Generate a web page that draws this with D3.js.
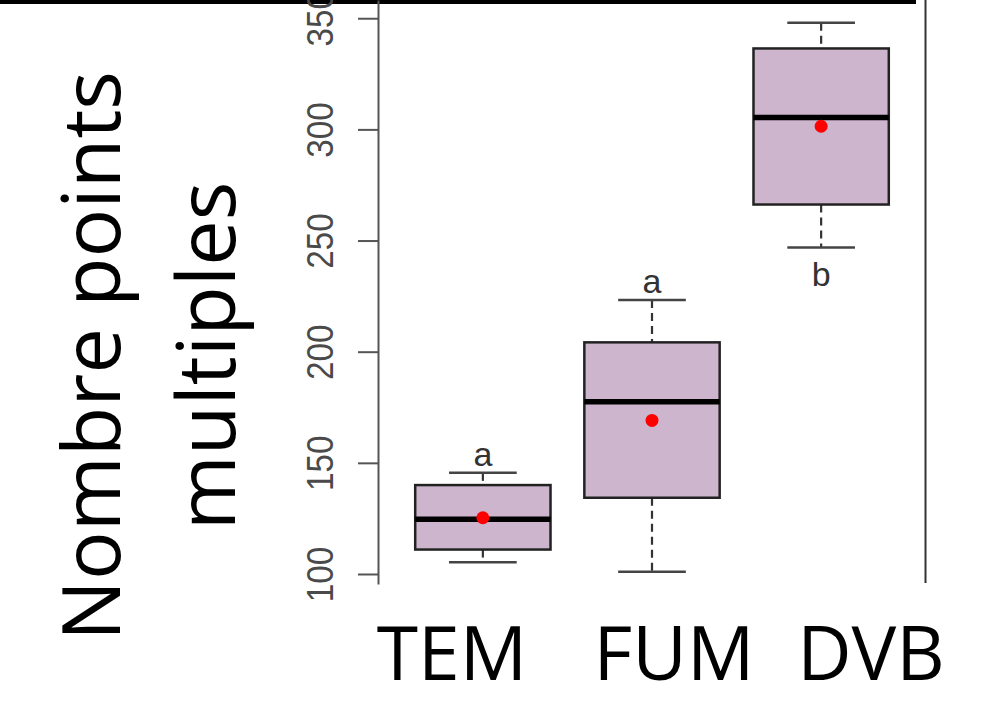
<!DOCTYPE html>
<html>
<head>
<meta charset="utf-8">
<script src="https://cdn.jsdelivr.net/npm/d3@7"></script>
<style>
  body { margin: 0; background: #fff; }
  svg { display: block; }
</style>
</head>
<body>
<div id="chart"></div>
<script>
// values
var groups = ["TEM", "FUM", "DVB"];
var whiskerLow = [105.3, 101, 246.9];
var q1 = [111, 134.3, 266.2];
var median = [124.6, 177.5, 305.3];
var q3 = [140, 204.2, 336.4];
var whiskerHigh = [145.5, 223.3, 348];
var means = [125.3, 169.1, 301.4];
var letters = ["a", "a", "b"];
var yTicks = [100, 150, 200, 250, 300, 350];
var yTitle = ["Nombre points", "multiples"];

var width = 1000, height = 701;

var svg = d3.select("#chart")
    .append("svg")
    .attr("width", width)
    .attr("height", height);

// Scales
var x = d3.scalePoint().domain(groups).range([378, 926]).padding(0.62);
var y = d3.scaleLinear().domain([95.5, 358.2]).range([584, 0]);
var boxW = x.step() * 0.8;
var capW = boxW / 2;

// black bar at the top
svg.append("rect")
    .attr("x", 0).attr("y", 0)
    .attr("width", 916).attr("height", 4)
    .attr("fill", "#000");

// right border
svg.append("line")
    .attr("x1", 925.5).attr("x2", 925.5)
    .attr("y1", 0).attr("y2", 583)
    .attr("stroke", "#333").attr("stroke-width", 2);

// y axis
var yAxis = d3.axisLeft(y).tickValues(yTicks).tickSize(20).tickSizeOuter(0).tickPadding(0);
var gy = svg.append("g")
    .attr("transform", "translate(378,0)")
    .call(yAxis);
gy.select(".domain").attr("stroke", "#555").attr("stroke-width", 2);
gy.selectAll(".tick line").attr("stroke", "#555").attr("stroke-width", 2);
gy.selectAll(".tick text")
    .attr("x", 0).attr("y", 0).attr("dy", 0)
    .attr("transform", "translate(-45,0) rotate(-90) scale(0.9,1)")
    .attr("text-anchor", "middle")
    .attr("font-family", "Liberation Sans, Arial, sans-serif")
    .attr("font-size", "37px")
    .attr("fill", "#4a4a4a");

var data = groups.map(function (d, i) {
    return { g: d, lo: whiskerLow[i], q1: q1[i], med: median[i], q3: q3[i], hi: whiskerHigh[i], mean: means[i], letter: letters[i] };
});

var box = svg.selectAll(".box")
    .data(data)
    .enter()
    .append("g")
    .attr("class", "box");

// whiskers (dashed)
box.append("line")
    .attr("x1", d => x(d.g)).attr("x2", d => x(d.g))
    .attr("y1", d => y(d.hi)).attr("y2", d => y(d.q3))
    .attr("stroke", "#333").attr("stroke-width", 2.2)
    .attr("stroke-dasharray", "8,5");
box.append("line")
    .attr("x1", d => x(d.g)).attr("x2", d => x(d.g))
    .attr("y1", d => y(d.q1)).attr("y2", d => y(d.lo))
    .attr("stroke", "#333").attr("stroke-width", 2.2)
    .attr("stroke-dasharray", "8,5");

// staples
box.selectAll(".cap")
    .data(d => [{ g: d.g, v: d.lo }, { g: d.g, v: d.hi }])
    .enter()
    .append("line")
    .attr("x1", d => x(d.g) - capW / 2).attr("x2", d => x(d.g) + capW / 2)
    .attr("y1", d => y(d.v)).attr("y2", d => y(d.v))
    .attr("stroke", "#444").attr("stroke-width", 2.5);

// boxes
box.append("rect")
    .attr("x", d => x(d.g) - boxW / 2)
    .attr("width", boxW)
    .attr("y", d => y(d.q3))
    .attr("height", d => y(d.q1) - y(d.q3))
    .attr("fill", "#CDB5CD")
    .attr("stroke", "#222").attr("stroke-width", 2.5);

// medians
box.append("line")
    .attr("x1", d => x(d.g) - boxW / 2).attr("x2", d => x(d.g) + boxW / 2)
    .attr("y1", d => y(d.med)).attr("y2", d => y(d.med))
    .attr("stroke", "#000").attr("stroke-width", 5.5);

// means
box.append("circle")
    .attr("cx", d => x(d.g))
    .attr("cy", d => y(d.mean))
    .attr("r", 6.5)
    .attr("fill", "#ff0000");

// significance letters: above the top whisker, or below when there is no room
box.append("text")
    .attr("x", d => x(d.g))
    .attr("y", function (d) {
        return y(d.hi) - 40 < 0 ? y(d.lo) + 39 : y(d.hi) - 7;
    })
    .attr("text-anchor", "middle")
    .attr("font-family", "Liberation Sans, Arial, sans-serif")
    .attr("font-size", "34px")
    .attr("fill", "#333")
    .text(d => d.letter);

// category labels (slide text boxes, not aligned with the boxes)
var xLabel = d3.scaleOrdinal().domain(groups).range([452, 674, 871]);
svg.selectAll(".cat")
    .data(groups)
    .enter()
    .append("text")
    .attr("class", "cat")
    .attr("x", d => xLabel(d))
    .attr("y", 680)
    .attr("text-anchor", "middle")
    .attr("font-family", "Open Sans, sans-serif")
    .attr("font-size", "75px")
    .attr("fill", "#000")
    .text(d => d);

// y title on two lines
svg.selectAll(".ytitle")
    .data(yTitle)
    .enter()
    .append("text")
    .attr("class", "ytitle")
    .attr("transform", (d, i) => "translate(" + (120 + i * 115) + ",356) rotate(-90)")
    .attr("text-anchor", "middle")
    .attr("font-family", "Open Sans, sans-serif")
    .attr("font-size", "81px")
    .attr("fill", "#000")
    .text(d => d);
</script>
</body>
</html>
